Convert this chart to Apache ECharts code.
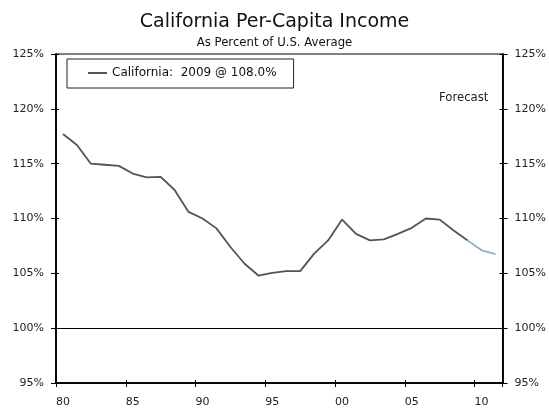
<!DOCTYPE html>
<html>
<head>
<meta charset="utf-8">
<script src="https://cdn.jsdelivr.net/npm/echarts@6/dist/echarts.min.js"></script>
<style>html,body{margin:0;padding:0;background:#fff}#c{width:549px;height:408px}</style>
</head>
<body>
<div id="c"></div>
<script>
var years = [1980,1981,1982,1983,1984,1985,1986,1987,1988,1989,1990,1991,1992,1993,1994,1995,1996,1997,1998,1999,2000,2001,2002,2003,2004,2005,2006,2007,2008,2009,2010,2011];
var actual = [117.7,116.7,115.0,114.9,114.8,114.1,113.75,113.8,112.6,110.6,110.0,109.1,107.4,105.9,104.8,105.05,105.2,105.2,106.8,108.0,109.9,108.6,108.0,108.1,108.6,109.15,110.0,109.9,108.9,108.0,null,null];
var forecast = [null,null,null,null,null,null,null,null,null,null,null,null,null,null,null,null,null,null,null,null,null,null,null,null,null,null,null,null,null,108.0,107.1,106.75];
var yTicks = [95,100,105,110,115,120,125];
var seriesName = 'California:  2009 @ 108.0%';
var titleText = 'California Per-Capita Income';
var subtitleText = 'As Percent of U.S. Average';
var forecastText = 'Forecast';

var FONT = '"DejaVu Sans", Verdana, sans-serif';
var cats = years.map(function(y){ var s = String(y % 100); return s.length < 2 ? '0' + s : s; });

function yAx(pos, inside, labels) {
  return {
    type: 'value', position: pos, min: yTicks[0], max: yTicks[yTicks.length-1], interval: 5,
    axisLine: { show: true, lineStyle: { color: '#000', width: 1.5 } },
    axisTick: { show: true, inside: inside, length: inside ? 3 : 5, lineStyle: { color: '#000', width: 1 } },
    axisLabel: { show: labels, formatter: '{value}%', color: '#222', fontFamily: FONT, fontSize: 11, margin: 12 },
    splitLine: { show: false }
  };
}
function xAx(inside, labels) {
  return {
    type: 'category', data: cats, boundaryGap: true, position: 'bottom',
    axisLine: { show: true, lineStyle: { color: '#000', width: 1.5 } },
    axisTick: { show: true, inside: inside, length: inside ? 3 : 4, interval: 4, alignWithLabel: false, lineStyle: { color: '#000', width: 1 } },
    axisLabel: { show: labels, interval: 4, color: '#222', fontFamily: FONT, fontSize: 11, margin: 14 },
    splitLine: { show: false }
  };
}

var chart = echarts.init(document.getElementById('c'), null, { renderer: 'canvas' });
chart.setOption({
  animation: false,
  backgroundColor: '#fff',
  title: [
    { text: titleText, left: 'center', top: 8, textStyle: { fontFamily: FONT, fontSize: 19, fontWeight: 'normal', color: '#111' } },
    { text: subtitleText, left: 'center', top: 32, textStyle: { fontFamily: FONT, fontSize: 11.7, fontWeight: 'normal', color: '#111' } },
    { text: forecastText, left: 434, top: 87, textStyle: { fontFamily: FONT, fontSize: 11.7, fontWeight: 'normal', color: '#222' } }
  ],
  legend: {
    left: 67, top: 59,
    data: [{ name: seriesName, icon: 'rect' }],
    itemWidth: 19, itemHeight: 2, itemGap: 4,
    borderColor: '#222', borderWidth: 1, borderRadius: 0,
    padding: [7, 17, 8, 21],
    textStyle: { fontFamily: FONT, fontSize: 12, color: '#111', lineHeight: 14 }
  },
  grid: { left: 56, right: 44, top: 54, bottom: 25, show: true, borderColor: '#000', borderWidth: 1, backgroundColor: 'transparent' },
  xAxis: [xAx(false, true), xAx(true, false)],
  yAxis: [yAx('left', false, true), yAx('left', true, false), yAx('right', false, true), yAx('right', true, false)],
  series: [
    {
      name: seriesName, type: 'line', data: actual, xAxisIndex: 0, yAxisIndex: 0,
      showSymbol: false, symbol: 'none', connectNulls: false,
      lineStyle: { color: '#5e5248', width: 1.8 }, itemStyle: { color: '#5e5248' },
      markLine: { silent: true, symbol: 'none', label: { show: false },
        lineStyle: { color: '#000', type: 'solid', width: 1 }, data: [{ yAxis: 100 }] }
    },
    {
      name: 'Forecast', type: 'line', data: forecast, xAxisIndex: 0, yAxisIndex: 0,
      showSymbol: false, symbol: 'none',
      lineStyle: { color: '#8fb0c8', width: 1.8 }, itemStyle: { color: '#8fb0c8' }
    }
  ]
});
</script>
</body>
</html>
